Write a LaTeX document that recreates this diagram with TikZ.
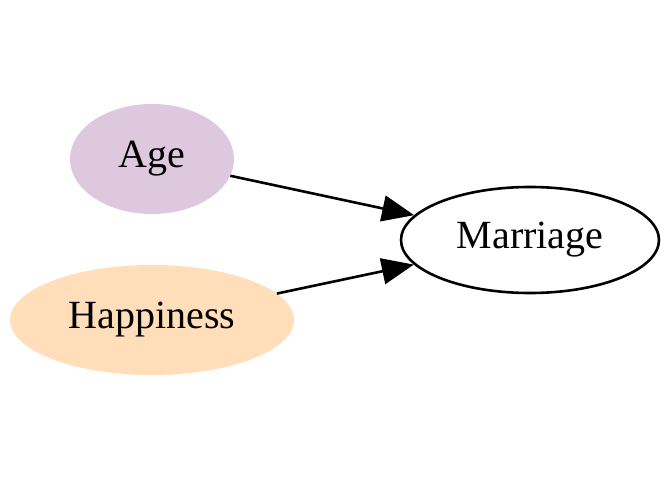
\documentclass[tikz,border=0pt]{standalone}
\usepackage{fontspec}
\setmainfont{Liberation Serif}
\usetikzlibrary{shapes.geometric,arrows.meta}
\definecolor{agefill}{HTML}{DDC8DD}
\definecolor{happyfill}{HTML}{FFDEB9}
\tikzset{
  var/.style={ellipse, inner sep=0pt, font=\fontsize{40}{48}\selectfont},
  edge/.style={line width=2.6pt, -{Triangle[length=32pt,width=26pt]}, shorten >=0pt}
}
\begin{document}
\begin{tikzpicture}[x=1pt,y=1pt]
\useasboundingbox (0,0) rectangle (672,480);
\node[var, fill=agefill, minimum width=164pt, minimum height=110pt] (age) at (152,321) {Age};
\node[var, fill=happyfill, minimum width=284pt, minimum height=110pt] (hap) at (152,160) {Happiness};
\node[var, draw, line width=2.6pt, minimum width=258pt, minimum height=106pt] (mar) at (530,240) {Marriage};
\draw[edge] (age) -- (mar);
\draw[edge] (hap) -- (mar);
\end{tikzpicture}
\end{document}
